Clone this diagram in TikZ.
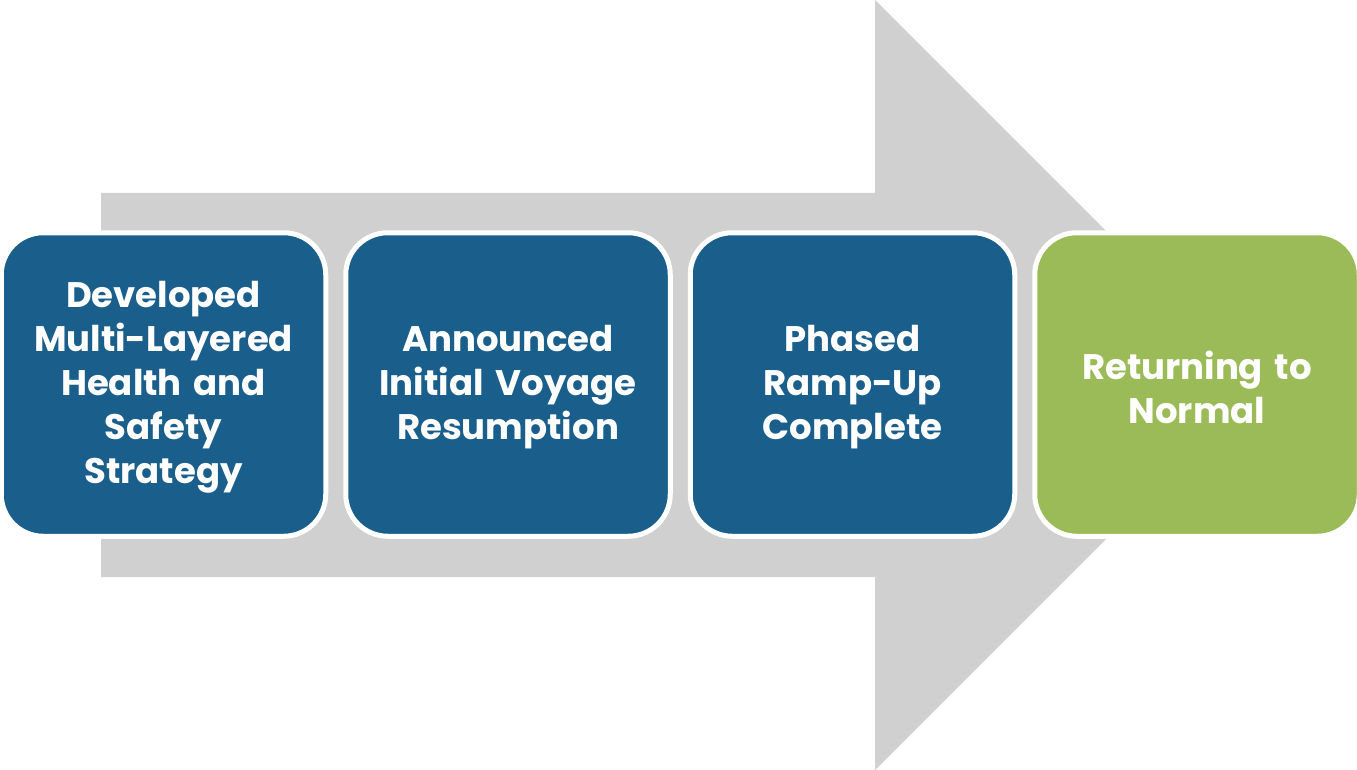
\documentclass[tikz,border=0pt]{standalone}
\usepackage{fontspec}
\setmainfont{Poppins}
\definecolor{boxblue}{HTML}{1A5E8C}
\definecolor{boxgreen}{HTML}{9BBB59}
\definecolor{arrowgray}{HTML}{D0D0D0}
\tikzset{
  stage/.style={draw=white, line width=5pt, rounded corners=42pt, minimum width=324.5pt, minimum height=303.5pt, inner sep=0pt, text=white, align=center, font=\bfseries\fontsize{35.5}{44}\selectfont, text width=320pt},
  bluestage/.style={stage, fill=boxblue},
  greenstage/.style={stage, fill=boxgreen}
}
\begin{document}
\begin{tikzpicture}[x=1pt,y=-1pt]
\useasboundingbox (0,0) rectangle (1357,770);
\fill[arrowgray] (101,193) -- (875,193) -- (875,0) -- (1260,385) -- (875,770) -- (875,577) -- (101,577) -- cycle;
\node[bluestage] (s1) at (163.5,384.5) {};
\node[bluestage] (s2) at (508,384.5) {};
\node[bluestage] (s3) at (852.5,384.5) {};
\node[greenstage] (s4) at (1197,384.5) {};
\node[stage, draw=none, fill=none, minimum height=0pt] (t1) at ([yshift=-3pt]s1.center) {Developed\\Multi-Layered\\Health and\\Safety\\Strategy};
\node[stage, draw=none, fill=none, minimum height=0pt] (t2) at ([yshift=-3pt]s2.center) {Announced\\Initial Voyage\\Resumption};
\node[stage, draw=none, fill=none, minimum height=0pt] (t3) at ([yshift=-3pt]s3.center) {Phased\\Ramp-Up\\Complete};
\node[stage, draw=none, fill=none, minimum height=0pt] (t4) at ([yshift=-3pt]s4.center) {Returning to\\Normal};
\end{tikzpicture}
\end{document}
